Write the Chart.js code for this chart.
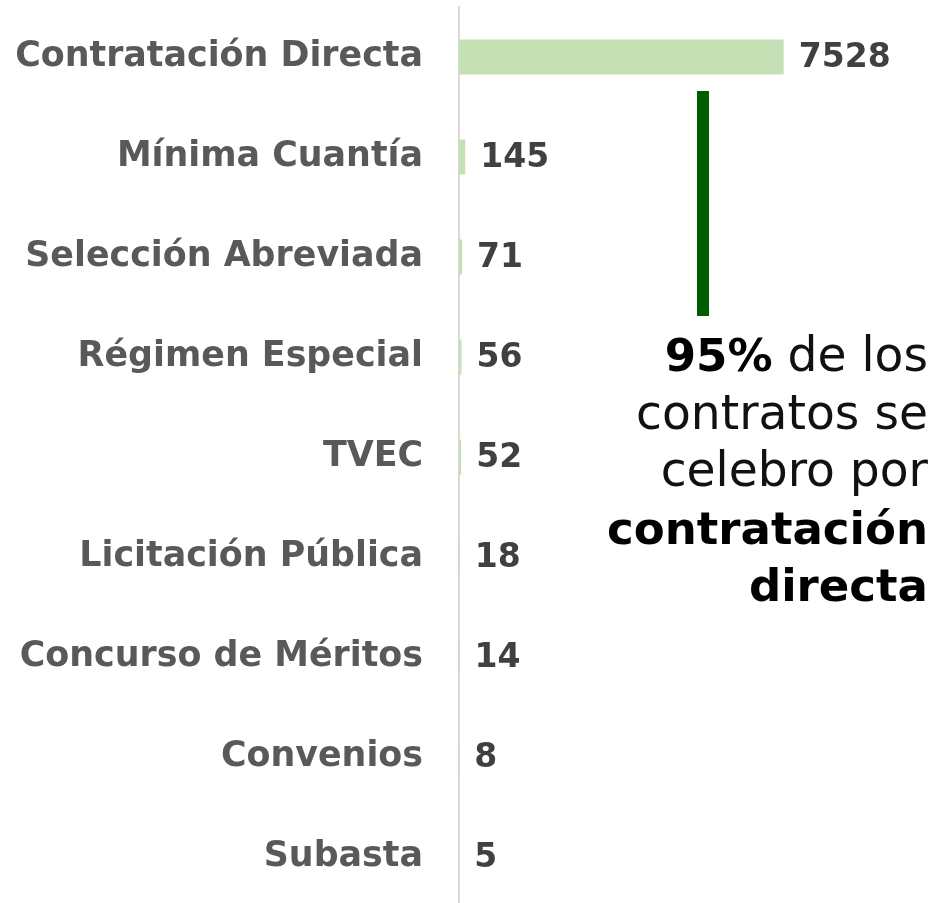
<!DOCTYPE html>
<html>
<head>
<meta charset="utf-8">
<script src="https://cdn.jsdelivr.net/npm/chart.js@4.4.1/dist/chart.umd.min.js"></script>
<style>
  html, body { margin: 0; padding: 0; background: #fff; overflow: hidden; }
  #wrap { position: relative; width: 935px; height: 907px; }
</style>
</head>
<body>
<div id="wrap"><canvas id="c" width="935" height="907"></canvas></div>
<script>
// ---- data ----
const categories = [
  "Contratación Directa",
  "Mínima Cuantía",
  "Selección Abreviada",
  "Régimen Especial",
  "TVEC",
  "Licitación Pública",
  "Concurso de Méritos",
  "Convenios",
  "Subasta"
];
const contratos = [7528, 145, 71, 56, 52, 18, 14, 8, 5];
const noteLines = [
  [["95%", true], [" de los", false]],
  [["contratos se", false]],
  [["celebro por", false]],
  [["contratación", true]],
  [["directa", true]]
];

// ---- font fitting (fallback for Montserrat) ----
const FAMILY = "'DejaVu Sans', sans-serif";
const mctx = document.createElement('canvas').getContext('2d');
function fitSize(text, weight, target) {
  mctx.font = weight + ' 40px ' + FAMILY;
  return 40 * target / mctx.measureText(text).width;
}
const labelSize = fitSize("Contratación Directa", 'bold', 408);
const valueSize = fitSize("7528", 'bold', 92);
const noteReg = fitSize("contratos se", 'normal', 292);
const noteBold = fitSize("contratación", 'bold', 321);

const valueLabels = {
  id: 'valueLabels',
  afterDatasetsDraw(chart) {
    const ctx = chart.ctx;
    const meta = chart.getDatasetMeta(0);
    ctx.save();
    ctx.font = 'bold ' + valueSize + 'px ' + FAMILY;
    ctx.fillStyle = '#404040';
    ctx.textAlign = 'left';
    ctx.textBaseline = 'middle';
    meta.data.forEach((el, i) => {
      ctx.fillText(String(contratos[i]), el.x + 15, el.y + 1);
    });
    ctx.restore();
  }
};

const note = {
  id: 'note',
  afterDraw(chart) {
    const ctx = chart.ctx;
    ctx.save();
    // dark green connector
    ctx.fillStyle = '#005e00';
    ctx.fillRect(697, 91, 12, 225);
    // text block, right aligned
    const right = 928;
    const baselines = [371, 429, 486, 544, 601];
    ctx.textBaseline = 'alphabetic';
    ctx.textAlign = 'left';
    noteLines.forEach((parts, li) => {
      let total = 0;
      const widths = parts.map(([t, b]) => {
        ctx.font = (b ? 'bold ' + noteBold : 'normal ' + noteReg) + 'px ' + FAMILY;
        const w = ctx.measureText(t).width;
        total += w;
        return w;
      });
      let x = right - total;
      parts.forEach(([t, b], pi) => {
        ctx.font = (b ? 'bold ' + noteBold : 'normal ' + noteReg) + 'px ' + FAMILY;
        ctx.fillStyle = b ? '#000000' : '#111111';
        ctx.fillText(t, x, baselines[li]);
        x += widths[pi];
      });
    });
    ctx.restore();
  }
};

new Chart(document.getElementById('c'), {
  type: 'bar',
  data: {
    labels: categories,
    datasets: [{
      data: contratos,
      backgroundColor: '#c5e0b4',
      borderWidth: 0,
      categoryPercentage: 1,
      barPercentage: 0.35
    }]
  },
  options: {
    indexAxis: 'y',
    responsive: false,
    animation: false,
    layout: { padding: { top: 7, bottom: 0, left: 0, right: 5 } },
    plugins: { legend: { display: false }, tooltip: { enabled: false } },
    scales: {
      x: { display: false, min: 0, max: 10920 },
      y: {
        afterFit(scale) {
          scale.width = 459;
          scale.paddingTop = 0;
          scale.paddingBottom = 0;
        },
        grid: { display: false, drawTicks: false },
        border: { display: true, color: '#d9d9d9', width: 2 },
        ticks: {
          padding: 36,
          color: '#595959',
          font: { family: FAMILY, weight: 'bold', size: labelSize }
        }
      }
    }
  },
  plugins: [valueLabels, note]
});
</script>
</body>
</html>
